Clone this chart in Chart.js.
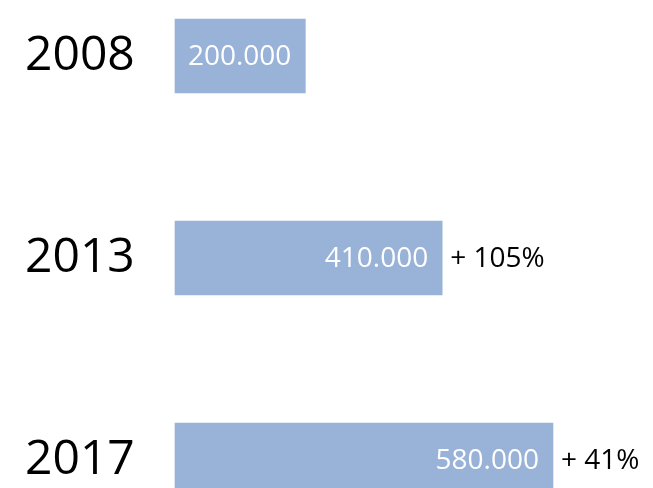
<!DOCTYPE html>
<html>
<head>
<meta charset="utf-8">
<script src="https://cdn.jsdelivr.net/npm/chart.js@4.4.1/dist/chart.umd.min.js"></script>
<style>
    html, body { margin: 0; padding: 0; background: #ffffff; overflow: hidden; }
    #wrap { position: relative; width: 653px; height: 500px; }
</style>
</head>
<body>
<div id="wrap"><canvas id="growthChart"></canvas></div>
<script>
// dados
const years = ['2008', '2013', '2017'];
const totals = [200000, 410000, 580000];
const growthLabels = ['', '+ 105%', '+ 41%'];

const barColor = '#98b2d8';
const labelFont = '"Open Sans", "Noto Sans", sans-serif';

function formatThousands(v) {
    // separador de milhar com ponto (200.000)
    return String(v).replace(/\B(?=(\d{3})+(?!\d))/g, '.');
}

// desenha os valores dentro da barra e o crescimento ao lado
const barLabels = {
    id: 'barLabels',
    afterDatasetsDraw(chart) {
        const ctx = chart.ctx;
        const meta = chart.getDatasetMeta(0);
        ctx.save();
        ctx.font = '28px ' + labelFont;
        ctx.textBaseline = 'middle';
        meta.data.forEach((bar, i) => {
            ctx.fillStyle = '#ffffff';
            ctx.textAlign = 'right';
            ctx.fillText(formatThousands(totals[i]), bar.x - 14, bar.y + 1);
            if (growthLabels[i]) {
                ctx.fillStyle = '#000000';
                ctx.textAlign = 'left';
                ctx.fillText(growthLabels[i], bar.x + 8, bar.y + 1);
            }
        });
        ctx.restore();
    }
};

const ctx = document.getElementById('growthChart').getContext('2d');
const myChart = new Chart(ctx, {
    type: 'bar',
    data: {
        labels: years,
        datasets: [{
            data: totals,
            backgroundColor: barColor,
            borderWidth: 0,
            barThickness: 74,
            clip: false
        }]
    },
    options: {
        indexAxis: 'y',
        responsive: true,
        maintainAspectRatio: false,
        animation: false,
        layout: {
            padding: { top: 56, bottom: 40, left: 25, right: 87 }
        },
        plugins: {
            legend: { display: false },
            tooltip: { enabled: false }
        },
        scales: {
            x: {
                display: false,
                min: 0,
                max: 600000
            },
            y: {
                offset: false,
                grid: { display: false },
                border: { display: false },
                afterFit: function (scale) {
                    scale.width = 150;
                },
                ticks: {
                    autoSkip: false,
                    crossAlign: 'far',
                    color: '#000000',
                    font: { family: labelFont, size: 48 }
                }
            }
        }
    },
    plugins: [barLabels]
});
</script>
</body>
</html>
